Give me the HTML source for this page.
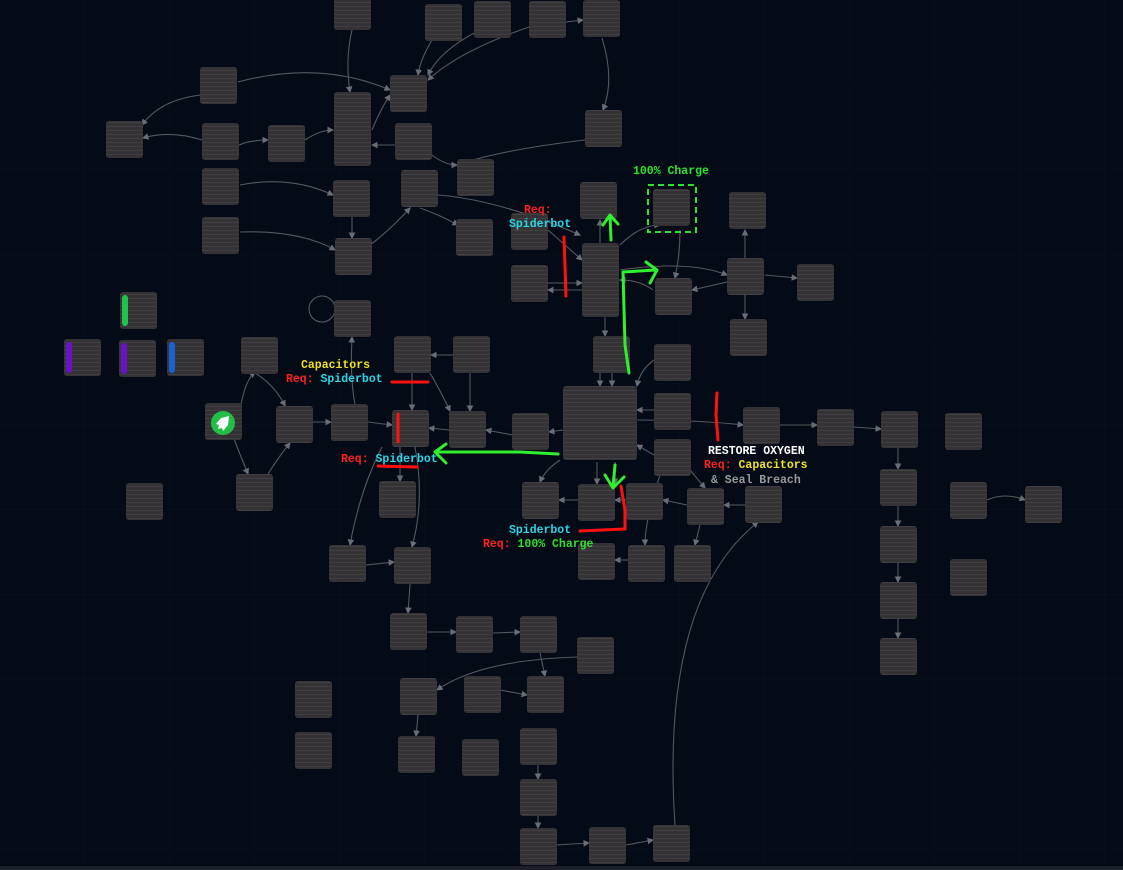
<!DOCTYPE html>
<html><head><meta charset="utf-8"><style>
html,body{margin:0;padding:0;background:#040b16;width:1123px;height:870px;overflow:hidden}
svg{display:block}
text{font-family:"Liberation Mono","DejaVu Sans Mono",monospace;font-size:11.5px;font-weight:bold}
</style></head><body>
<svg width="1123" height="870" viewBox="0 0 1123 870" xmlns="http://www.w3.org/2000/svg">
<defs>
<pattern id="ln" width="8" height="4" patternUnits="userSpaceOnUse"><rect width="8" height="4" fill="#343234"/><rect y="2" width="8" height="1" fill="#403e41"/></pattern>
<pattern id="grid" width="85" height="85" patternUnits="userSpaceOnUse"><path d="M85 0V85H0" fill="none" stroke="#08121f" stroke-width="1"/></pattern>
<marker id="ar" markerWidth="6" markerHeight="6" refX="5" refY="3" orient="auto"><path d="M0,0L6,3L0,6z" fill="#6a6d73"/></marker>
</defs>
<rect width="1123" height="870" fill="#040b16"/>
<rect width="1123" height="870" fill="url(#grid)"/>
<g fill="none" stroke="#55585e" stroke-width="1.1" marker-end="url(#ar)">
<path d="M352 30 Q345 60 350 92"/>
<path d="M238 82 Q320 60 390 90"/>
<path d="M200 95 Q160 100 142 125"/>
<path d="M202 140 Q170 130 143 138"/>
<path d="M305 140 Q320 130 333 130"/>
<path d="M239 145 Q250 140 268 140"/>
<path d="M240 185 Q290 175 333 195"/>
<path d="M240 232 Q300 230 335 250"/>
<path d="M372 130 Q380 110 390 95"/>
<path d="M432 40 Q420 60 418 75"/>
<path d="M480 30 Q440 50 428 75"/>
<path d="M535 25 Q460 50 428 80"/>
<path d="M566 22 L583 20"/>
<path d="M602 38 Q615 80 603 110"/>
<path d="M585 140 Q500 150 457 165"/>
<path d="M432 155 Q445 165 457 165"/>
<path d="M395 145 L372 145"/>
<path d="M420 208 Q440 215 458 225"/>
<path d="M438 195 Q500 200 580 235"/>
<path d="M370 245 Q390 230 410 208"/>
<path d="M352 200 L352 238"/>
<path d="M548 230 L582 260"/>
<path d="M548 283 L582 283"/>
<path d="M582 290 L548 290"/>
<path d="M600 243 L600 220"/>
<path d="M620 245 Q640 225 660 225"/>
<path d="M680 230 Q680 255 675 278"/>
<path d="M653 290 Q640 280 620 280"/>
<path d="M727 282 L692 290"/>
<path d="M745 258 L745 230"/>
<path d="M765 275 L797 278"/>
<path d="M745 295 L745 319"/>
<path d="M620 270 Q690 260 727 275"/>
<path d="M605 317 L605 336"/>
<path d="M612 373 L612 386"/>
<path d="M600 373 L600 386"/>
<path d="M654 360 Q640 370 637 386"/>
<path d="M654 410 L637 410"/>
<path d="M654 455 L637 445"/>
<path d="M637 420 Q700 420 743 425"/>
<path d="M780 425 L817 425"/>
<path d="M854 427 L881 429"/>
<path d="M563 430 L549 432"/>
<path d="M513 435 L486 430"/>
<path d="M449 430 L429 428"/>
<path d="M368 422 L392 425"/>
<path d="M313 422 L331 422"/>
<path d="M240 410 Q245 380 255 372"/>
<path d="M255 373 Q275 385 285 406"/>
<path d="M233 436 Q240 455 248 474"/>
<path d="M268 474 Q280 455 290 443"/>
<path d="M355 404 Q350 380 352 337"/>
<path d="M412 373 L412 410"/>
<path d="M430 373 Q440 390 450 411"/>
<path d="M453 355 L431 355"/>
<path d="M470 373 L470 411"/>
<path d="M400 447 L400 481"/>
<path d="M382 447 Q360 490 350 545"/>
<path d="M415 447 Q425 500 412 547"/>
<path d="M366 565 L394 562"/>
<path d="M410 584 L408 613"/>
<path d="M427 632 L456 632"/>
<path d="M493 633 L520 632"/>
<path d="M540 653 L545 676"/>
<path d="M578 657 Q480 660 437 690"/>
<path d="M500 690 L527 695"/>
<path d="M418 715 L416 736"/>
<path d="M538 765 L538 779"/>
<path d="M538 816 L538 828"/>
<path d="M556 845 L589 843"/>
<path d="M626 845 L653 840"/>
<path d="M675 825 Q660 600 758 522"/>
<path d="M597 462 L597 484"/>
<path d="M615 462 L615 484"/>
<path d="M578 500 L559 500"/>
<path d="M626 500 L615 500"/>
<path d="M687 505 L663 500"/>
<path d="M745 505 L724 505"/>
<path d="M690 470 L705 488"/>
<path d="M660 475 Q645 520 645 545"/>
<path d="M700 525 L695 545"/>
<path d="M560 460 Q545 470 540 482"/>
<path d="M898 448 L898 469"/>
<path d="M898 506 L898 526"/>
<path d="M898 563 L898 582"/>
<path d="M898 619 L898 638"/>
<path d="M987 500 Q1005 492 1025 500"/>
<path d="M628 560 L615 560"/>
</g>
<circle cx="322" cy="309" r="13" fill="none" stroke="#55585e" stroke-width="1.1"/>
<g fill="url(#ln)">
<rect x="334" y="-4" width="37" height="34" rx="3"/>
<rect x="425" y="4" width="37" height="37" rx="3"/>
<rect x="474" y="1" width="37" height="37" rx="3"/>
<rect x="529" y="1" width="37" height="37" rx="3"/>
<rect x="583" y="0" width="37" height="37" rx="3"/>
<rect x="200" y="67" width="37" height="37" rx="3"/>
<rect x="390" y="75" width="37" height="37" rx="3"/>
<rect x="334" y="92" width="37" height="74" rx="3"/>
<rect x="106" y="121" width="37" height="37" rx="3"/>
<rect x="202" y="123" width="37" height="37" rx="3"/>
<rect x="268" y="125" width="37" height="37" rx="3"/>
<rect x="395" y="123" width="37" height="37" rx="3"/>
<rect x="585" y="110" width="37" height="37" rx="3"/>
<rect x="202" y="168" width="37" height="37" rx="3"/>
<rect x="333" y="180" width="37" height="37" rx="3"/>
<rect x="401" y="170" width="37" height="37" rx="3"/>
<rect x="457" y="159" width="37" height="37" rx="3"/>
<rect x="580" y="182" width="37" height="37" rx="3"/>
<rect x="653" y="189" width="37" height="37" rx="3"/>
<rect x="729" y="192" width="37" height="37" rx="3"/>
<rect x="202" y="217" width="37" height="37" rx="3"/>
<rect x="335" y="238" width="37" height="37" rx="3"/>
<rect x="456" y="219" width="37" height="37" rx="3"/>
<rect x="511" y="213" width="37" height="37" rx="3"/>
<rect x="582" y="243" width="37" height="74" rx="3"/>
<rect x="511" y="265" width="37" height="37" rx="3"/>
<rect x="655" y="278" width="37" height="37" rx="3"/>
<rect x="727" y="258" width="37" height="37" rx="3"/>
<rect x="797" y="264" width="37" height="37" rx="3"/>
<rect x="120" y="292" width="37" height="37" rx="3"/>
<rect x="334" y="300" width="37" height="37" rx="3"/>
<rect x="730" y="319" width="37" height="37" rx="3"/>
<rect x="64" y="339" width="37" height="37" rx="3"/>
<rect x="119" y="340" width="37" height="37" rx="3"/>
<rect x="167" y="339" width="37" height="37" rx="3"/>
<rect x="241" y="337" width="37" height="37" rx="3"/>
<rect x="394" y="336" width="37" height="37" rx="3"/>
<rect x="453" y="336" width="37" height="37" rx="3"/>
<rect x="593" y="336" width="37" height="37" rx="3"/>
<rect x="654" y="344" width="37" height="37" rx="3"/>
<rect x="205" y="403" width="37" height="37" rx="3"/>
<rect x="276" y="406" width="37" height="37" rx="3"/>
<rect x="331" y="404" width="37" height="37" rx="3"/>
<rect x="392" y="410" width="37" height="37" rx="3"/>
<rect x="449" y="411" width="37" height="37" rx="3"/>
<rect x="512" y="413" width="37" height="37" rx="3"/>
<rect x="563" y="386" width="74" height="74" rx="3"/>
<rect x="654" y="393" width="37" height="37" rx="3"/>
<rect x="743" y="407" width="37" height="37" rx="3"/>
<rect x="817" y="409" width="37" height="37" rx="3"/>
<rect x="881" y="411" width="37" height="37" rx="3"/>
<rect x="945" y="413" width="37" height="37" rx="3"/>
<rect x="654" y="439" width="37" height="37" rx="3"/>
<rect x="236" y="474" width="37" height="37" rx="3"/>
<rect x="126" y="483" width="37" height="37" rx="3"/>
<rect x="379" y="481" width="37" height="37" rx="3"/>
<rect x="522" y="482" width="37" height="37" rx="3"/>
<rect x="578" y="484" width="37" height="37" rx="3"/>
<rect x="626" y="483" width="37" height="37" rx="3"/>
<rect x="687" y="488" width="37" height="37" rx="3"/>
<rect x="745" y="486" width="37" height="37" rx="3"/>
<rect x="880" y="469" width="37" height="37" rx="3"/>
<rect x="950" y="482" width="37" height="37" rx="3"/>
<rect x="1025" y="486" width="37" height="37" rx="3"/>
<rect x="329" y="545" width="37" height="37" rx="3"/>
<rect x="394" y="547" width="37" height="37" rx="3"/>
<rect x="578" y="543" width="37" height="37" rx="3"/>
<rect x="628" y="545" width="37" height="37" rx="3"/>
<rect x="674" y="545" width="37" height="37" rx="3"/>
<rect x="880" y="526" width="37" height="37" rx="3"/>
<rect x="950" y="559" width="37" height="37" rx="3"/>
<rect x="880" y="582" width="37" height="37" rx="3"/>
<rect x="390" y="613" width="37" height="37" rx="3"/>
<rect x="456" y="616" width="37" height="37" rx="3"/>
<rect x="520" y="616" width="37" height="37" rx="3"/>
<rect x="577" y="637" width="37" height="37" rx="3"/>
<rect x="880" y="638" width="37" height="37" rx="3"/>
<rect x="295" y="681" width="37" height="37" rx="3"/>
<rect x="400" y="678" width="37" height="37" rx="3"/>
<rect x="464" y="676" width="37" height="37" rx="3"/>
<rect x="527" y="676" width="37" height="37" rx="3"/>
<rect x="295" y="732" width="37" height="37" rx="3"/>
<rect x="398" y="736" width="37" height="37" rx="3"/>
<rect x="462" y="739" width="37" height="37" rx="3"/>
<rect x="520" y="728" width="37" height="37" rx="3"/>
<rect x="520" y="779" width="37" height="37" rx="3"/>
<rect x="520" y="828" width="37" height="37" rx="3"/>
<rect x="589" y="827" width="37" height="37" rx="3"/>
<rect x="653" y="825" width="37" height="37" rx="3"/>
</g>
<rect x="122" y="295" width="6" height="31" rx="3" fill="#1fc24a"/>
<rect x="66" y="342" width="6" height="31" rx="3" fill="#6a12c8"/>
<rect x="121" y="343" width="6" height="31" rx="3" fill="#6a12c8"/>
<rect x="169" y="342" width="6" height="31" rx="3" fill="#1763cf"/>
<circle cx="223" cy="423" r="12" fill="#1fbf4a"/>
<path d="M229 416 L221 418 L216 424 L219 425 L218 429 L222 428 L223 431 L228 425 Z" fill="#fff"/>
<rect x="648" y="185" width="48" height="47" fill="none" stroke="#2ee02e" stroke-width="2" stroke-dasharray="6,4"/>
<g stroke="#ff1010" stroke-width="3" fill="none" stroke-linecap="round">
<path d="M564 237 L566 296"/>
<path d="M392 382 L428 382"/>
<path d="M398 414 L398 442"/>
<path d="M378 466 L417 467"/>
<path d="M717 393 L716 415 L718 440"/>
<path d="M621 486 L625 510 L625 529 L580 531"/>
</g>
<g stroke="#2ef02e" stroke-width="3" fill="none" stroke-linecap="round" stroke-linejoin="round">
<path d="M611 240 L610 215 M603 225 L610 215 L618 224"/>
<path d="M629 373 L625 345 L623 272 L656 270 M646 262 L657 270 L650 283"/>
<path d="M558 454 L520 452 L435 452 M446 444 L435 452 L446 463"/>
<path d="M615 465 L613 487 M605 475 L613 488 L624 477"/>
</g>
<text x="633" y="174" fill="#2ee02e">100% Charge</text>
<text x="524" y="213" fill="#ff2020">Req:</text>
<text x="509" y="227" fill="#2ad6e6">Spiderbot</text>
<text x="301" y="368" fill="#f0e020">Capacitors</text>
<text x="286" y="382" fill="#ff2020">Req: <tspan fill="#2ad6e6">Spiderbot</tspan></text>
<text x="341" y="462" fill="#ff2020">Req: <tspan fill="#2ad6e6">Spiderbot</tspan></text>
<text x="708" y="454" fill="#ffffff">RESTORE OXYGEN</text>
<text x="704" y="468" fill="#ff2020">Req: <tspan fill="#f0e020">Capacitors</tspan></text>
<text x="711" y="483" fill="#9a9a9a">&amp; Seal Breach</text>
<text x="509" y="533" fill="#2ad6e6">Spiderbot</text>
<text x="483" y="547" fill="#ff2020">Req: <tspan fill="#2ee02e">100% Charge</tspan></text>
<rect x="0" y="866" width="1123" height="4" fill="#1a1f28"/>
</svg>
</body></html>
